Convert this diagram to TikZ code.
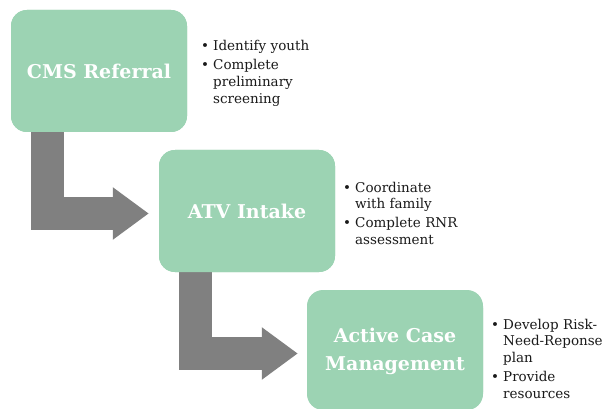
\documentclass[tikz,border=0pt]{standalone}
\usepackage{fontspec}
\setmainfont{DejaVu Serif}
\usetikzlibrary{arrows.meta}
\definecolor{mint}{HTML}{9CD3B3}
\definecolor{arrowgray}{HTML}{808080}
\definecolor{bodytext}{HTML}{1A1A1A}
\newcommand\blt{\par\noindent\hangindent=12pt\hangafter=1\makebox[12pt][l]{\textbullet}}
\newcommand\bulsetup{\setlength{\parskip}{2pt}}
\begin{document}
\begin{tikzpicture}[x=1pt,y=-1pt,
  box/.style={fill=mint, rounded corners=16pt, minimum width=176pt, minimum height=122pt,
    inner sep=0pt, text=white, font=\fontsize{19}{28}\selectfont\bfseries, align=center},
  flowarrow/.style={draw=arrowgray, line width=33pt, -{Triangle[length=36pt,width=50pt]}},
  bul/.style={text width=120pt, inner sep=0pt, anchor=north west, text=bodytext,
    font=\fontsize{13.5}{16.8}\selectfont}]
\useasboundingbox (0,0) rectangle (613,409);
\fill[white] (0,0) rectangle (613,409);
% boxes (positions)
\path (99,71) node[box] (b1) {};
\path (247,211) node[box] (b2) {};
\path (395,349) node[box, minimum height=118pt] (b3) {};
% arrows
\draw[flowarrow] ([xshift=37pt]b1.south west) |- ([xshift=-10pt,yshift=-2.5pt]b2.west);
\draw[flowarrow] ([xshift=37pt]b2.south west) |- ([xshift=-9pt,yshift=-4.5pt]b3.west);
% boxes drawn over arrows
\path (99,71) node[box] (b1t) {CMS Referral};
\path (247,211) node[box] (b2t) {ATV Intake};
\path (395,351) node[box, minimum height=118pt] (b3t) {Active Case\\Management};
% bullet lists
\node[bul] (l1) at (201,32) {\bulsetup\blt Identify youth\blt Complete\newline preliminary\newline screening\par};
\node[bul] (l2) at (343,173) {\bulsetup\blt Coordinate\newline with family\blt Complete RNR\newline assessment\par};
\node[bul] (l3) at (491,310) {\bulsetup\blt Develop Risk-\newline Need-Reponse\newline plan\blt Provide\newline resources\par};
\end{tikzpicture}
\end{document}
